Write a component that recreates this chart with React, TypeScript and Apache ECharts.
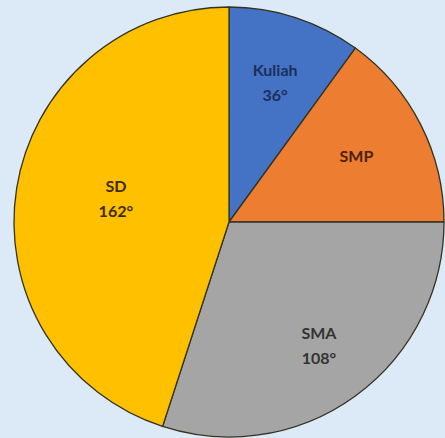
import React, { useEffect, useRef } from "react";
import * as echarts from "echarts";

const categories = ["Kuliah", "SMP", "SMA", "SD"];
const degrees = [36, 54, 108, 162];
const showDegree = [true, false, true, true];
const sliceColors = ["#4472c4", "#ed7d31", "#a5a5a5", "#ffc000"];
const labelColors = ["#1c2f5c", "#4a2208", "#333333", "#3d2c05"];
const labelOffsets: [number, number][] = [[12, -35], [29, -16], [25, 34], [-4, -7]];

export default function App() {
  const ref = useRef<HTMLDivElement>(null);
  useEffect(() => {
    const chart = echarts.init(ref.current!, null, { renderer: "svg" });
    chart.setOption({
      animation: false,
      backgroundColor: "#dce9f6",
      series: [
        {
          type: "pie",
          center: [229, 222],
          radius: 215,
          startAngle: 90,
          clockwise: true,
          silent: true,
          labelLine: { show: false },
          itemStyle: { borderColor: "#333322", borderWidth: 1.3 },
          data: categories.map((c, i) => ({
            name: c,
            value: degrees[i],
            itemStyle: { color: sliceColors[i] },
            label: {
              show: true,
              position: "inside",
              offset: labelOffsets[i],
              color: labelColors[i],
              fontFamily: "Lato, 'Open Sans', sans-serif",
              fontWeight: "bold",
              fontSize: 16,
              lineHeight: 25,
              align: "center",
              formatter: showDegree[i] ? `${c}\n${degrees[i]}°` : c,
            },
          })),
        },
      ],
    });
    return () => chart.dispose();
  }, []);
  return (
    <div
      ref={ref}
      style={{ position: "fixed", left: 0, top: 0, width: 445, height: 438 }}
    />
  );
}
